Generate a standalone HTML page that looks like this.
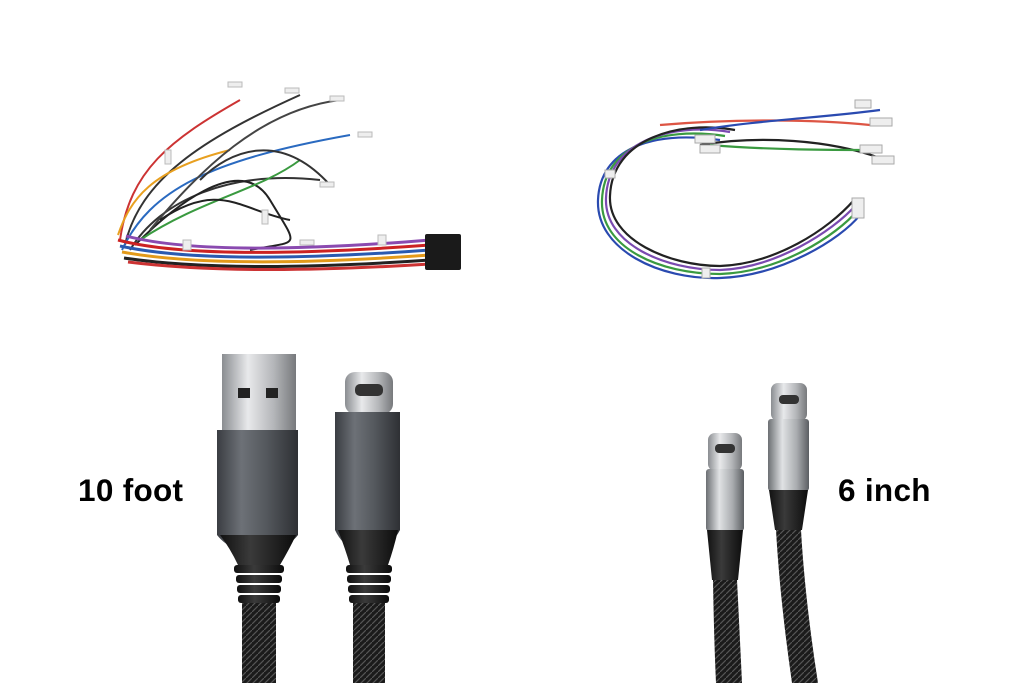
<!DOCTYPE html>
<html><head><meta charset="utf-8"><style>
html,body{margin:0;padding:0;background:#fff;}
svg{display:block}
text{font-family:"Liberation Sans",sans-serif;font-weight:bold;}
</style></head><body>
<svg width="1024" height="683" viewBox="0 0 1024 683" xmlns="http://www.w3.org/2000/svg">
<defs>
<linearGradient id="gh" x1="0" x2="1"><stop offset="0" stop-color="#3a3d42"/><stop offset=".3" stop-color="#6d7177"/><stop offset=".6" stop-color="#55595e"/><stop offset="1" stop-color="#2e3034"/></linearGradient>
<linearGradient id="mt" x1="0" x2="1"><stop offset="0" stop-color="#8a8d91"/><stop offset=".35" stop-color="#e8e9eb"/><stop offset=".7" stop-color="#b4b6b9"/><stop offset="1" stop-color="#77797c"/></linearGradient>
<linearGradient id="sv" x1="0" x2="1"><stop offset="0" stop-color="#6c6f73"/><stop offset=".35" stop-color="#e0e2e4"/><stop offset=".7" stop-color="#a9acaf"/><stop offset="1" stop-color="#5b5e62"/></linearGradient>
<linearGradient id="bk" x1="0" x2="1"><stop offset="0" stop-color="#111"/><stop offset=".4" stop-color="#3a3a3a"/><stop offset="1" stop-color="#0c0c0c"/></linearGradient>
<pattern id="br" width="6" height="6" patternUnits="userSpaceOnUse"><rect width="6" height="6" fill="#1b1b1b"/><path d="M0 6L6 0" stroke="#555" stroke-width="1.2"/></pattern>
</defs>

<g fill="none" stroke-width="2">
<path d="M120 240 C130 170 170 140 240 100" stroke="#c33"/>
<path d="M125 245 C140 180 200 140 300 95" stroke="#333"/>
<path d="M118 235 C130 200 150 170 230 150" stroke="#e8a020"/>
<path d="M122 250 C150 190 210 160 350 135" stroke="#2a6ac0"/>
<path d="M130 250 C160 200 230 170 320 180" stroke="#333"/>
<path d="M135 245 C170 210 240 150 270 200 S300 240 250 250" stroke="#222"/>
<path d="M140 240 C200 200 260 190 300 160" stroke="#3a9a40"/>
<path d="M150 230 C200 170 260 110 340 100" stroke="#444"/>
<path d="M160 220 C220 180 240 210 290 220" stroke="#222"/>
<path d="M200 180 C230 150 280 130 330 185" stroke="#333"/>
</g>
<g stroke-width="3" fill="none">
<path d="M118 240 Q200 262 430 245" stroke="#c22"/>
<path d="M120 246 Q210 266 430 250" stroke="#2a5ab0"/>
<path d="M122 252 Q220 270 430 255" stroke="#e39a1a"/>
<path d="M124 258 Q230 274 430 260" stroke="#222"/>
<path d="M126 236 Q210 258 430 240" stroke="#8a4ab0"/>
<path d="M128 262 Q240 276 430 264" stroke="#cc3333"/>
</g>
<rect x="425" y="234" width="36" height="36" rx="2" fill="#1a1a1a"/>
<g fill="#eee" stroke="#bbb"><rect x="228" y="82" width="14" height="5"/><rect x="285" y="88" width="14" height="5"/><rect x="330" y="96" width="14" height="5"/><rect x="358" y="132" width="14" height="5"/><rect x="320" y="182" width="14" height="5"/><rect x="262" y="210" width="6" height="14"/><rect x="165" y="150" width="6" height="14"/><rect x="183" y="240" width="8" height="10"/><rect x="378" y="235" width="8" height="10"/><rect x="300" y="240" width="14" height="5"/></g>

<g fill="none" stroke-width="2.2">
<path d="M720 140 C650 130 600 150 598 200 C596 250 660 280 720 278 C780 276 840 240 860 215" stroke="#2a4ab0"/>
<path d="M725 136 C660 126 604 146 602 200 C600 248 660 274 720 274 C780 272 836 236 858 210" stroke="#3a9a40"/>
<path d="M730 132 C670 122 608 142 606 198 C604 244 665 270 720 270 C775 268 832 232 856 205" stroke="#7a4ab0"/>
<path d="M735 130 C680 120 612 138 610 196 C608 240 670 266 720 266 C775 264 828 230 854 200" stroke="#222"/>
<path d="M660 125 C740 118 820 120 870 125" stroke="#d54"/>
<path d="M700 130 C760 120 820 118 880 110" stroke="#2a4ab0"/>
<path d="M700 145 C760 135 830 140 880 158" stroke="#222"/>
<path d="M710 145 C770 150 830 150 880 150" stroke="#3a9a40"/>
</g>
<g fill="#eee" stroke="#aaa"><rect x="855" y="100" width="16" height="8"/><rect x="870" y="118" width="22" height="8"/><rect x="860" y="145" width="22" height="8"/><rect x="872" y="156" width="22" height="8"/><rect x="695" y="135" width="20" height="8"/><rect x="700" y="145" width="20" height="8"/><rect x="852" y="198" width="12" height="20"/><rect x="702" y="268" width="8" height="10"/><rect x="605" y="170" width="10" height="8"/></g>

<rect x="222" y="354" width="74" height="78" fill="url(#mt)"/>
<rect x="238" y="388" width="12" height="10" fill="#222"/><rect x="266" y="388" width="12" height="10" fill="#222"/>
<path d="M217 430 H298 V535 Q290 545 280 548 H235 Q225 545 217 535Z" fill="url(#gh)"/>
<path d="M220 535 Q230 548 238 565 H280 Q290 548 296 535Z" fill="url(#bk)"/>
<g fill="url(#bk)"><rect x="234" y="565" width="50" height="8" rx="3"/><rect x="236" y="575" width="46" height="8" rx="3"/><rect x="237" y="585" width="44" height="8" rx="3"/><rect x="238" y="595" width="42" height="8" rx="3"/></g>
<rect x="242" y="603" width="34" height="80" fill="url(#br)"/>

<rect x="345" y="372" width="48" height="42" rx="10" fill="url(#mt)"/>
<rect x="355" y="384" width="28" height="12" rx="5" fill="#333"/>
<path d="M335 412 H400 V530 Q392 545 380 550 H355 Q342 545 335 530Z" fill="url(#gh)"/>
<path d="M338 530 Q345 548 350 565 H388 Q394 548 398 530Z" fill="url(#bk)"/>
<g fill="url(#bk)"><rect x="346" y="565" width="46" height="8" rx="3"/><rect x="347" y="575" width="44" height="8" rx="3"/><rect x="348" y="585" width="42" height="8" rx="3"/><rect x="349" y="595" width="40" height="8" rx="3"/></g>
<rect x="353" y="603" width="32" height="80" fill="url(#br)"/>

<text x="78" y="501" font-size="31.5" letter-spacing="0.3" fill="#000">10 foot</text>
<text x="838" y="501" font-size="31.5" letter-spacing="0.3" fill="#000">6 inch</text>

<rect x="708" y="433" width="34" height="38" rx="7" fill="url(#mt)"/>
<rect x="715" y="444" width="20" height="9" rx="4" fill="#333"/>
<rect x="706" y="469" width="38" height="62" rx="3" fill="url(#sv)"/>
<path d="M707 530 H743 L738 580 H712Z" fill="url(#bk)"/>
<path d="M713 580 H737 Q740 640 742 683 H716 Q714 640 713 580Z" fill="url(#br)"/>

<rect x="771" y="383" width="36" height="38" rx="7" fill="url(#mt)"/>
<rect x="779" y="395" width="20" height="9" rx="4" fill="#333"/>
<rect x="768" y="419" width="41" height="72" rx="3" fill="url(#sv)"/>
<path d="M769 490 H808 L802 530 H775Z" fill="url(#bk)"/>
<path d="M776 530 H801 Q805 600 818 683 H792 Q780 600 776 530Z" fill="url(#br)"/>
</svg>
</body></html>
